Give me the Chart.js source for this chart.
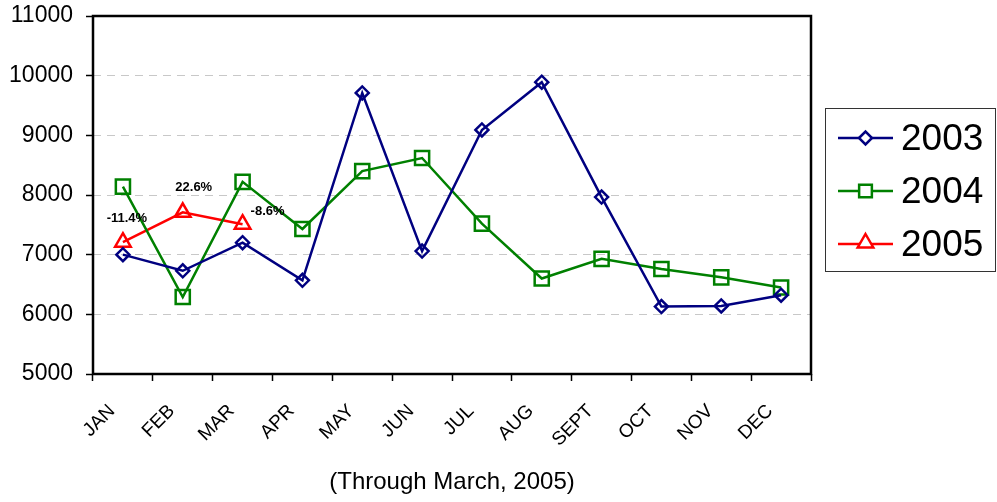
<!DOCTYPE html>
<html>
<head>
<meta charset="utf-8">
<script src="https://cdn.jsdelivr.net/npm/chart.js@4"></script>
<style>
  body{ margin:0; background:#fff; }
  #wrap{ width:997px; height:502px; }
</style>
</head>
<body>
<div id="wrap"><canvas id="chart" width="997" height="502"></canvas></div>
<script>
// data
const months = ['JAN','FEB','MAR','APR','MAY','JUN','JUL','AUG','SEPT','OCT','NOV','DEC'];
const y2003 = [7000, 6730, 7200, 6570, 9710, 7060, 9090, 9890, 7965, 6130, 6140, 6320];
const y2004 = [8140, 6290, 8220, 7430, 8400, 8620, 7520, 6600, 6930, 6760, 6620, 6450];
const y2005 = [7210, 7710, 7510, null, null, null, null, null, null, null, null, null];
const changeLabels = ['-11.4%', '22.6%', '-8.6%'];
const yTicks = [5000, 6000, 7000, 8000, 9000, 10000, 11000];
const xTitle = '(Through March, 2005)';

const series = [
  { label:'2003', data:y2003, color:'#000080', style:'rectRot', r:6.5 },
  { label:'2004', data:y2004, color:'#008000', style:'rect', r:10 },
  { label:'2005', data:y2005, color:'#ff0000', style:'triangle', r:9 }
];

// draw a marker by hand (for the legend)
function marker(ctx, style, x, y, r){
  ctx.beginPath();
  if(style==='rectRot'){ ctx.moveTo(x-r,y); ctx.lineTo(x,y-r); ctx.lineTo(x+r,y); ctx.lineTo(x,y+r); ctx.closePath(); }
  else if(style==='rect'){ const s=r*Math.SQRT1_2; ctx.rect(x-s,y-s,2*s,2*s); }
  else { ctx.moveTo(x, y-r); ctx.lineTo(x+r*0.866, y+r*0.5); ctx.lineTo(x-r*0.866, y+r*0.5); ctx.closePath(); }
  ctx.fillStyle='#fff'; ctx.fill(); ctx.stroke();
}

const framePlugin = {
  id:'frame',
  beforeDatasetsDraw(chart){
    const {ctx, chartArea:a} = chart;
    ctx.save();
    ctx.strokeStyle='#000'; ctx.lineWidth=2.5;
    ctx.strokeRect(a.left, a.top, a.right-a.left, a.bottom-a.top);
    ctx.restore();
  },
  afterDatasetsDraw(chart){
    const ctx = chart.ctx, xs = chart.scales.x, ys = chart.scales.y;
    // % change labels above 2005 points
    const offs = [[4,-24],[11,-25],[25,-13]];
    ctx.save();
    ctx.font='bold 13px Arial, "Liberation Sans", sans-serif';
    ctx.fillStyle='#000'; ctx.textAlign='center'; ctx.textBaseline='middle';
    changeLabels.forEach((t,i)=>{
      const px = xs.getPixelForValue(i), py = ys.getPixelForValue(y2005[i]);
      ctx.fillText(t, px+offs[i][0], py+offs[i][1]);
    });
    ctx.restore();

    // legend box
    ctx.save();
    ctx.strokeStyle='#333'; ctx.lineWidth=1;
    ctx.strokeRect(825.5, 108.5, 170, 163);
    ctx.font='37px Arial, "Liberation Sans", sans-serif';
    ctx.textBaseline='middle'; ctx.textAlign='left';
    series.forEach((s,i)=>{
      const y = 138 + i*53;
      ctx.strokeStyle=s.color; ctx.lineWidth=2.5;
      ctx.beginPath(); ctx.moveTo(838,y); ctx.lineTo(893,y); ctx.stroke();
      marker(ctx, s.style, 865.5, s.style==='triangle' ? y-1 : y, s.style==='rect' ? 9 : s.r);
      ctx.fillStyle='#000';
      ctx.fillText(s.label, 901, y+2);
    });
    ctx.restore();
  }
};

new Chart(document.getElementById('chart'), {
  type:'line',
  data:{
    labels: months,
    datasets: series.map(s=>({
      label:s.label, data:s.data,
      borderColor:s.color, borderWidth:2.5,
      pointStyle:s.style, pointRadius:s.r, pointHoverRadius:s.r,
      pointBorderColor:s.color, pointBackgroundColor:'rgba(255,255,255,0)', pointBorderWidth:2.5,
      tension:0, spanGaps:false, clip:false
    }))
  },
  options:{
    responsive:false, animation:false,
    layout:{ padding:{ top:16, right:186, left:0, bottom:0 } },
    plugins:{ legend:{ display:false }, tooltip:{ enabled:false } },
    scales:{
      x:{
        offset:true,
        grid:{ offset:true, drawOnChartArea:false, tickLength:7, tickColor:'#000', tickWidth:1.5 },
        border:{ display:false },
        ticks:{ minRotation:45, maxRotation:45, autoSkip:false, padding:19, labelOffset:-11,
          color:'#000', font:{ family:'Arial, "Liberation Sans", sans-serif', size:19 } },
        title:{ display:true, text:xTitle, color:'#000', padding:{ top:0, bottom:5 },
          font:{ family:'Arial, "Liberation Sans", sans-serif', size:24 } },
        afterFit(scale){ scale.height = 128; scale.paddingLeft = 0; scale.paddingRight = 0; }
      },
      y:{
        min:5000, max:11000,
        afterBuildTicks(scale){ scale.ticks = yTicks.map(v=>({ value:v })); },
        grid:{ color:'#c8c8c8', lineWidth:1, tickLength:7, tickColor:'#000', tickWidth:1.5 },
        border:{ display:false, dash:[8,6] },
        ticks:{ padding:13, color:'#000', callback:(v)=>String(v),
          font:{ family:'Arial, "Liberation Sans", sans-serif', size:23 } },
        afterFit(scale){ scale.width = 93; scale.paddingTop = 0; scale.paddingBottom = 0; }
      }
    }
  },
  plugins:[framePlugin]
});
</script>
</body>
</html>
